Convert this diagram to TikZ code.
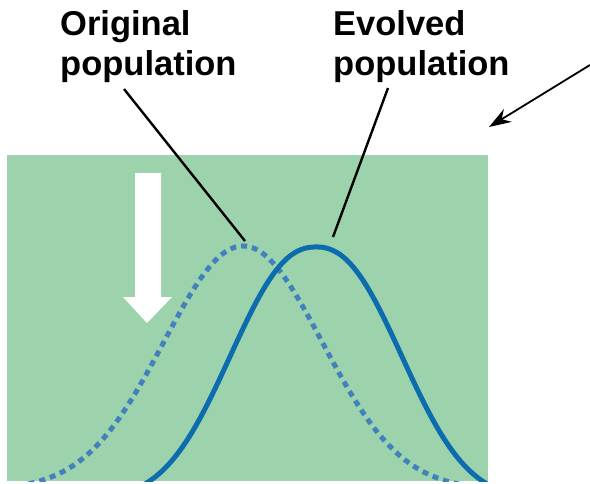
\documentclass[tikz,border=0pt]{standalone}
\usepackage{fontspec}
\setmainfont{Liberation Sans}
\usetikzlibrary{arrows.meta}
\definecolor{bggreen}{RGB}{157,211,172}
\definecolor{curveblue}{RGB}{12,108,174}
\definecolor{dotblue}{RGB}{66,130,188}

\begin{document}
\begin{tikzpicture}[
  x=1pt, y=-1pt,
  >={Stealth[length=22pt, width=15pt]},
  lbl/.style={font=\fontsize{34.5}{40}\selectfont\bfseries, align=left, inner sep=0pt, anchor=north west},
  leader/.style={draw=black, line width=2.4pt},
  newpop/.style={draw=curveblue, line width=5pt},
  oldpop/.style={draw=dotblue, line width=5pt, dash pattern=on 6pt off 5pt}
]
  \useasboundingbox (0,0) rectangle (590,483);

  % Environment
  \fill[bggreen] (7,155) rectangle (488,481);

  % Selection arrow
  \fill[white] (135,173) -- (161,173) -- (161,297) -- (172,297) -- (147,323)
    -- (123,297) -- (135,297) -- cycle;

  % Distributions
  \begin{scope}
    \clip (7,155) rectangle (488,481);
    \draw[oldpop] plot[domain=7:488, samples=140, smooth]
      (\x, {490-244*exp(-pow(abs(\x-243)/112+0.0001,2.0))});
    \draw[newpop] plot[domain=7:488, samples=140, smooth]
      (\x, {500-253*exp(-pow(abs(\x-316)/110+0.0001,2.3))});
  \end{scope}

  % Labels
  \node[lbl] (orig) at (60,10) {Original\\population};
  \node[lbl] (evol) at (333,10) {Evolved\\population};

  \coordinate (origfoot) at (124,89);
  \coordinate (origpeak) at (245,241);
  \coordinate (evolfoot) at (388,88);
  \coordinate (evolpeak) at (333,237);
  \draw[leader] (origfoot) -- (origpeak);
  \draw[leader] (evolfoot) -- (evolpeak);

  % Pointer
  \coordinate (ptrtail) at (590,65);
  \coordinate (ptrhead) at (489,127);
  \draw[->, line width=1.8pt] (ptrtail) -- (ptrhead);
\end{tikzpicture}
\end{document}
